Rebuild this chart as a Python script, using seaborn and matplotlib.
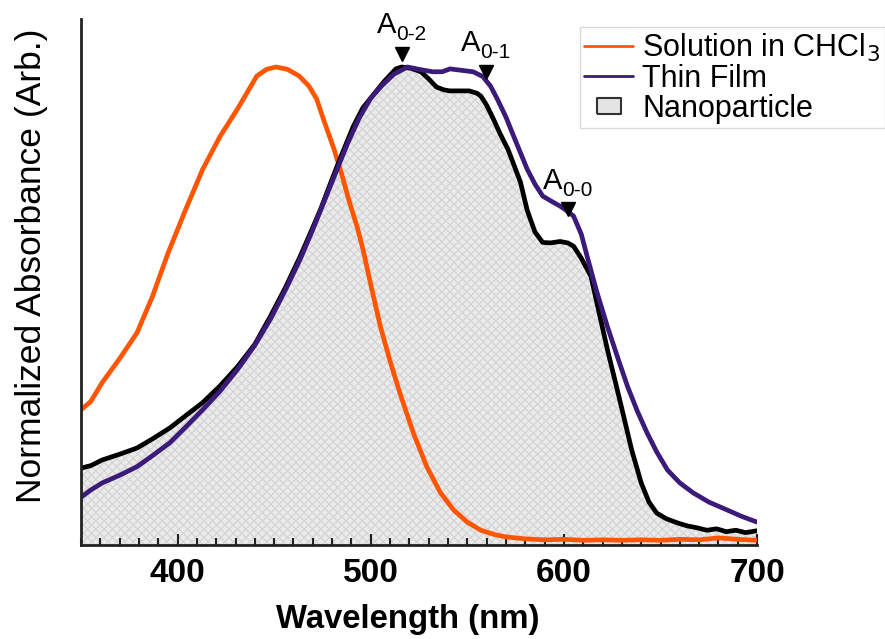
import numpy as np
import pandas as pd
import seaborn as sns
import matplotlib.pyplot as plt
from matplotlib.lines import Line2D

# data (wavelength in nm, normalized absorbance)

sol_nm = [350, 355, 361, 370, 379, 387, 395, 404, 413, 422, 431, 441, 446, 451, 457, 463, 468, 472, 476, 481,
          485, 489, 493, 496, 500, 505, 510, 515, 522, 529, 536, 543, 550, 557, 564, 570, 580, 590, 600, 610,
          620, 630, 640, 650, 660, 670, 680, 690, 700]
sol_abs = [0.283, 0.30, 0.34, 0.39, 0.444, 0.52, 0.61, 0.70, 0.786, 0.855, 0.912, 0.981, 0.995, 1.0, 0.995, 0.981, 0.96, 0.933, 0.885, 0.828,
           0.775, 0.717, 0.665, 0.618, 0.545, 0.457, 0.385, 0.319, 0.235, 0.164, 0.11, 0.073, 0.048, 0.031, 0.022, 0.017, 0.013, 0.011, 0.012, 0.010,
           0.011, 0.010, 0.011, 0.010, 0.012, 0.011, 0.015, 0.012, 0.010]

np_nm = [350, 355, 361, 370, 379, 387, 396, 404, 413, 422, 431, 440, 448, 456, 463.5, 469, 474, 479, 484, 491,
         496, 501, 507, 513, 516, 521, 526, 530, 534, 538, 541, 546, 551, 555, 557, 560, 563.5, 567, 571, 577.5,
         581, 585, 589, 593, 598, 602, 605, 609, 614, 618, 622.5, 627, 631, 635, 640, 644, 648, 653, 659, 664,
         669, 674, 679, 684, 689, 694, 700]
np_abs = [0.161, 0.166, 0.178, 0.19, 0.203, 0.222, 0.245, 0.27, 0.298, 0.333, 0.373, 0.42, 0.478, 0.54, 0.604, 0.655, 0.702, 0.755, 0.807, 0.876,
          0.915, 0.94, 0.97, 0.996, 1.0, 0.997, 0.99, 0.975, 0.958, 0.952, 0.95, 0.95, 0.95, 0.945, 0.939, 0.92, 0.891, 0.86, 0.828, 0.759,
          0.70, 0.655, 0.633, 0.632, 0.635, 0.632, 0.625, 0.60, 0.562, 0.49, 0.409, 0.335, 0.268, 0.20, 0.13, 0.09, 0.067, 0.055, 0.046, 0.04,
          0.036, 0.031, 0.034, 0.028, 0.031, 0.026, 0.03]

film_nm = [350, 355, 361, 370, 379, 387, 396, 404, 413, 422, 431, 440, 448, 456, 463.5, 470, 476, 482, 488, 494,
           500, 506, 512, 519, 525, 532, 537, 541, 547, 553, 558, 562, 565.5, 570, 574, 581, 585, 589, 594, 598,
           602, 605, 609, 612, 617, 622.5, 628, 633, 638, 643, 648, 653.6, 660, 667, 675, 684.7, 692, 700]
film_abs = [0.10, 0.115, 0.13, 0.146, 0.164, 0.187, 0.214, 0.246, 0.283, 0.322, 0.367, 0.418, 0.472, 0.535, 0.598, 0.66, 0.72, 0.78, 0.84, 0.893,
            0.935, 0.962, 0.985, 1.0, 0.995, 0.99, 0.99, 0.996, 0.993, 0.99, 0.98, 0.96, 0.933, 0.895, 0.855, 0.786, 0.755, 0.73, 0.718, 0.709,
            0.698, 0.688, 0.65, 0.604, 0.53, 0.457, 0.39, 0.331, 0.28, 0.235, 0.195, 0.157, 0.13, 0.109, 0.09, 0.073, 0.06, 0.048]

# vibronic peak markers
peak_labels = ["0-2", "0-1", "0-0"]
peak_nm = [516, 559.5, 602]
peak_abs = [1.027, 0.99, 0.702]

sns.set_style("ticks")
plt.rcParams['font.family'] = ['Liberation Sans', 'DejaVu Sans']
plt.rcParams['text.color'] = 'black'
plt.rcParams['axes.labelcolor'] = 'black'
plt.rcParams['xtick.labelcolor'] = 'black'

fig = plt.figure(figsize=(8.85, 6.39), dpi=100)
ax = fig.add_axes([0.0915, 0.147, 0.764, 0.823])
ax.set_axisbelow(False)

# nanoparticle fill under black curve
ax.fill_between(np_nm, np_abs, 0, facecolor="#ebebeb", edgecolor="#d6d6d6", hatch="xxxx", linewidth=0, zorder=1)

sns.lineplot(x=sol_nm, y=sol_abs, ax=ax, color="#ff5500", linewidth=3.4, sort=False, zorder=3)
sns.lineplot(x=np_nm, y=np_abs, ax=ax, color="black", linewidth=3.4, sort=False, zorder=3)
sns.lineplot(x=film_nm, y=film_abs, ax=ax, color="#3b1a7a", linewidth=3.4, sort=False, zorder=4)

ax.plot(peak_nm, peak_abs, linestyle="none", marker="v", color="black", markersize=10, zorder=5)
for lab, xx, yy in zip(peak_labels, peak_nm, peak_abs):
    ax.annotate("A", xy=(xx, yy), xytext=(-4, 15), textcoords="offset points",
                ha="right", va="baseline", fontsize=21, zorder=6)
    ax.annotate(lab, xy=(xx, yy), xytext=(-4, 10), textcoords="offset points",
                ha="left", va="baseline", fontsize=15, zorder=6)

ax.set_xlim(350, 700)
ax.set_ylim(0, 1.10)
ax.set_yticks([])
ax.set_xticks([400, 500, 600, 700])
ax.set_xticks(np.arange(350, 701, 10), minor=True)
ax.tick_params(axis="x", which="major", direction="in", length=8, width=1.5, color="#222222",
               labelsize=24, pad=9)
ax.tick_params(axis="x", which="minor", direction="in", length=5, width=1.5, color="#222222")
for t in ax.get_xticklabels():
    t.set_fontweight("bold")
sns.despine(ax=ax)
for s in ["left", "bottom"]:
    ax.spines[s].set_linewidth(2)
    ax.spines[s].set_color("#222222")
    ax.spines[s].set_zorder(6)

ax.set_xlabel("Wavelength (nm)", fontsize=23.7, fontweight="bold")
ax.xaxis.set_label_coords(0.484, -0.112)
ax.set_ylabel("Normalized Absorbance (Arb.)", fontsize=25.5, va="center")
ax.yaxis.set_label_coords(-0.073, 0.532)

handles = [
    Line2D([], [], color="#ff5500", linewidth=2),
    Line2D([], [], color="#3b1a7a", linewidth=2),
    Line2D([], [], linestyle="none", marker=[(-1.4, -1), (1.4, -1), (1.4, 1), (-1.4, 1), (-1.4, -1)],
           markersize=17, markerfacecolor="#e4e4e4", markeredgecolor="#333333", markeredgewidth=1.5),
]
labels = ["Solution in CHCl$_3$", "Thin Film", "Nanoparticle"]
leg = fig.legend(handles, labels, loc="upper right", bbox_to_anchor=(1.0, 1 - 27 / 639),
                 fontsize=22, frameon=True, fancybox=False, edgecolor="#d0d0d0",
                 handlelength=1.6, handletextpad=0.3, labelspacing=0.0, borderpad=0.15,
                 borderaxespad=0)
leg.get_frame().set_linewidth(1)

fig.savefig("out.png", dpi=100)
